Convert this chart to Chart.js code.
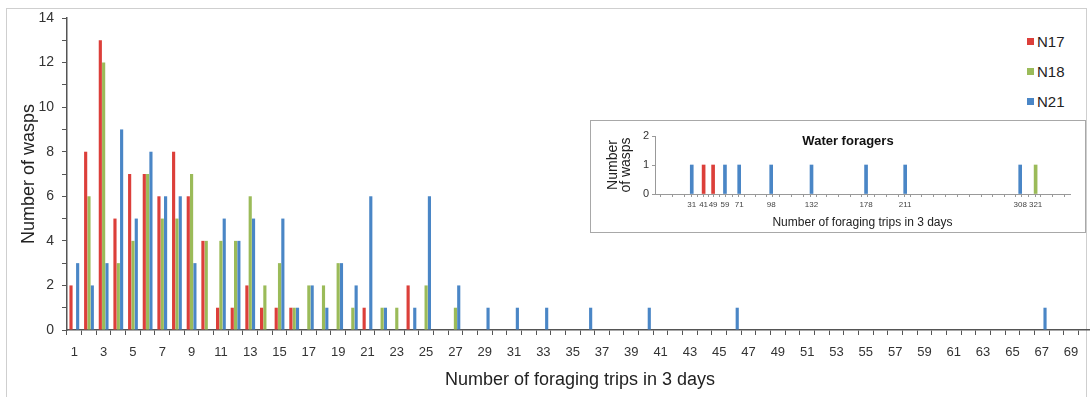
<!DOCTYPE html>
<html>
<head>
<meta charset="utf-8">
<script src="https://cdn.jsdelivr.net/npm/chart.js@4.4.1/dist/chart.umd.min.js"></script>
<style>
  html, body { margin:0; padding:0; background:#fff; overflow:hidden; width:1090px; height:397px; }
  #cadre { position:absolute; left:6px; top:8px; width:1081px; height:400px; border:1px solid #cfcfcf; box-sizing:border-box; }
  #principal { position:absolute; left:0; top:0; }
  #legende { position:absolute; left:1005px; top:25px; width:78px; height:92px; background:#fff;
             font-family:"Liberation Sans", Arial, sans-serif; font-size:15px; color:#222; }
  #legende div { position:absolute; left:22px; }
  #legende span { display:inline-block; width:7px; height:7px; margin-right:3px; vertical-align:2px; }
  #encartBoite { position:absolute; left:590px; top:120px; width:496px; height:113px; background:#fff;
                 border:1.5px solid #a8a8a8; box-sizing:border-box; }
  #encart { position:absolute; left:591px; top:121px; }
</style>
</head>
<body>
<div id="cadre"></div>
<canvas id="principal" width="1096" height="397"></canvas>
<div id="legende"></div>
<div id="encartBoite"></div>
<canvas id="encart" width="494" height="111"></canvas>
<script>
// Nombre de trajets (catégories de l'axe X)
const trajets = [1,2,3,4,5,6,7,8,9,10,11,12,13,14,15,16,17,18,19,20,21,22,23,24,25,26,27,28,29,30,
  31,32,33,34,35,36,37,38,39,40,41,42,43,44,45,46,47,48,49,50,51,52,53,54,55,56,57,58,59,60,
  61,62,63,64,65,66,67,68,69,70];

const n17 = [2,8,13,5,7,7,6,8,6,4,1,1,2,1,1,1,0,0,0,0,1,0,0,2,0,0,0,0,0,0,
  0,0,0,0,0,0,0,0,0,0,0,0,0,0,0,0,0,0,0,0,0,0,0,0,0,0,0,0,0,0,0,0,0,0,0,0,0,0,0,0];
const n18 = [0,6,12,3,4,7,5,5,7,4,4,4,6,2,3,1,2,2,3,1,0,1,1,0,2,0,1,0,0,0,
  0,0,0,0,0,0,0,0,0,0,0,0,0,0,0,0,0,0,0,0,0,0,0,0,0,0,0,0,0,0,0,0,0,0,0,0,0,0,0,0];
const n21 = [3,2,3,9,5,8,6,6,3,0,5,4,5,0,5,1,2,1,3,2,6,1,0,1,6,0,2,0,1,0,
  1,0,1,0,0,1,0,0,0,1,0,0,0,0,0,1,0,0,0,0,0,0,0,0,0,0,0,0,0,0,0,0,0,0,0,0,1,0,0,0];

// Encart : butineuses d'eau
const eauTicks = [31,41,49,59,71,98,132,178,211,308,321];
const eauN17 = [41,49];
const eauN18 = [321];
const eauN21 = [31,59,71,98,132,178,211,308];

const couleurs = { N17:'#dc3f3a', N18:'#9bbb59', N21:'#4a86c6' };
const police = '"Liberation Sans", Arial, sans-serif';

// Légende
document.getElementById('legende').innerHTML = Object.keys(couleurs).map((nom, i) =>
  `<div style="top:${8 + i*30}px"><span style="background:${couleurs[nom]}"></span>${nom}</div>`
).join('');

const serie = (nom, valeurs) => ({
  label: nom,
  data: valeurs,
  backgroundColor: couleurs[nom],
  borderWidth: 0,
  categoryPercentage: 0.68,
  barPercentage: 0.95
});

new Chart(document.getElementById('principal'), {
  type: 'bar',
  data: {
    labels: trajets,
    datasets: [serie('N17', n17), serie('N18', n18), serie('N21', n21)]
  },
  options: {
    responsive: false,
    animation: false,
    layout: { padding: { left: 0, top: 18, right: 3, bottom: 0 } },
    plugins: { legend: { display: false }, tooltip: { enabled: false } },
    scales: {
      x: {
        afterFit: (s) => { s.height = 67; },
        grid: { offset: true, drawOnChartArea: false, tickLength: 5, color: '#555' },
        border: { color: '#555', width: 1.5 },
        ticks: {
          autoSkip: false, maxRotation: 0, padding: 10,
          color: '#333', font: { family: police, size: 13 },
          callback: (v, i) => i % 2 === 0 ? trajets[i] : ''
        },
        title: { display: true, text: 'Number of foraging trips in 3 days', color: '#222',
                 font: { family: police, size: 18 }, padding: { top: 0, bottom: 6 } }
      },
      y: {
        min: 0, max: 14,
        afterFit: (s) => { s.width = 67; },
        grid: { drawOnChartArea: false, tickLength: 5, color: '#555' },
        border: { color: '#555', width: 1.5 },
        ticks: {
          stepSize: 1, padding: 8, color: '#333', font: { family: police, size: 14 },
          callback: (v) => v % 2 === 0 ? v : ''
        },
        title: { display: true, text: 'Number of wasps', color: '#222',
                 font: { family: police, size: 18 }, padding: { top: 18, bottom: 0 } }
      }
    }
  }
});

// Encart
const titreEncart = {
  id: 'titreEncart',
  afterDraw(chart) {
    const ctx = chart.ctx;
    ctx.save();
    ctx.font = 'bold 13px ' + police;
    ctx.fillStyle = '#111';
    ctx.textAlign = 'center';
    ctx.textBaseline = 'middle';
    ctx.fillText('Water foragers', 257, 20);
    ctx.restore();
  }
};

const serieEau = (nom, trips) => ({
  label: nom,
  data: trips.map(t => ({ x: t, y: 1 })),
  backgroundColor: couleurs[nom],
  borderWidth: 0,
  barThickness: 3,
  grouped: false
});

new Chart(document.getElementById('encart'), {
  type: 'bar',
  data: { datasets: [serieEau('N17', eauN17), serieEau('N18', eauN18), serieEau('N21', eauN21)] },
  plugins: [titreEncart],
  options: {
    responsive: false,
    animation: false,
    layout: { padding: { left: 0, top: 15, right: 15, bottom: 0 } },
    plugins: { legend: { display: false }, tooltip: { enabled: false } },
    scales: {
      x: {
        type: 'linear', min: 0, max: 350, offset: false,
        afterFit: (s) => { s.height = 38; },
        afterBuildTicks: (s) => {
          const marques = [];
          for (let v = 0; v <= 350; v += 10) marques.push(v);
          eauTicks.forEach(v => { if (!marques.includes(v)) marques.push(v); });
          marques.sort((a, b) => a - b);
          s.ticks = marques.map(v => ({ value: v }));
        },
        grid: { drawOnChartArea: false, tickLength: 3, color: '#999' },
        border: { color: '#999', width: 1 },
        ticks: {
          autoSkip: false, maxRotation: 0, padding: 3, color: '#444',
          font: { family: police, size: 8 },
          callback: (v) => eauTicks.includes(v) ? v : ''
        },
        title: { display: true, text: 'Number of foraging trips in 3 days', color: '#222',
                 font: { family: police, size: 12 }, padding: { top: 0, bottom: 2 } }
      },
      y: {
        min: 0, max: 2,
        afterFit: (s) => { s.width = 64; },
        grid: { drawOnChartArea: false, tickLength: 3, color: '#999' },
        border: { color: '#999', width: 1 },
        ticks: { stepSize: 1, padding: 3, color: '#333', font: { family: police, size: 11 } },
        title: { display: true, text: ['Number', 'of wasps'], color: '#222',
                 font: { family: police, size: 14, lineHeight: 0.95 }, padding: { top: 15, bottom: 0 } }
      }
    }
  }
});
</script>
</body>
</html>
